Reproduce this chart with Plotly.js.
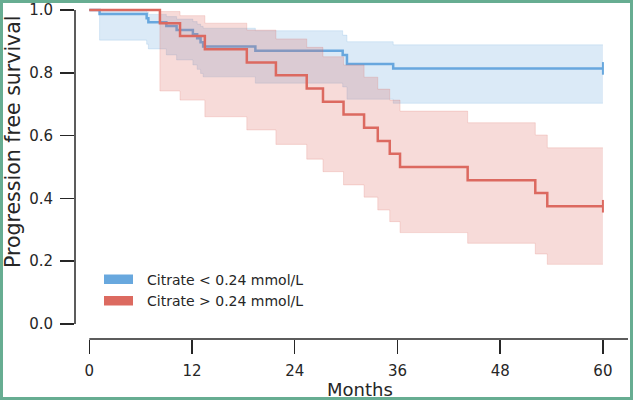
<!DOCTYPE html>
<html>
<head>
<meta charset="utf-8">
<script src="https://cdn.plot.ly/plotly-3.0.1.min.js"></script>
<style>
  html, body { margin: 0; padding: 0; background: #ffffff; }
  #wrap { position: relative; width: 633px; height: 400px; }
  #plot { position: absolute; left: 0; top: 0; width: 633px; height: 400px; }
  #frame { position: absolute; left: 0; top: 0; width: 633px; height: 400px; box-sizing: border-box;
           border: 3px solid #67ad92; pointer-events: none; }
</style>
</head>
<body>
<div id="wrap"><div id="plot"></div><div id="frame"></div></div>
<script>
// ---- data (Kaplan-Meier estimates with 95% CI) ----
const seriesNames = ["Citrate < 0.24 mmol/L", "Citrate > 0.24 mmol/L"];

const blueTimes = [0, 1.2, 6.7, 6.9, 9.0, 10.2, 12.1, 12.6, 13.0, 13.3, 19.4, 29.6, 30.1, 35.5, 60];
const blueSurv  = [1.0, 0.987, 0.974, 0.961, 0.949, 0.936, 0.923, 0.910, 0.897, 0.884, 0.870, 0.857, 0.828, 0.814, 0.814];
const blueUpper = [1.0, 0.998, 0.993, 0.986, 0.979, 0.971, 0.963, 0.955, 0.948, 0.942, 0.934, 0.920, 0.899, 0.889, 0.889];
const blueLower = [1.0, 0.904, 0.891, 0.876, 0.857, 0.841, 0.825, 0.811, 0.798, 0.787, 0.767, 0.755, 0.716, 0.703, 0.703];

const redTimes = [0, 8.25, 10.6, 13.5, 18.4, 21.8, 25.4, 27.3, 29.7, 32.1, 33.7, 35.1, 36.3, 44.2, 52.1, 53.5, 60];
const redSurv  = [1.0, 0.958, 0.917, 0.875, 0.833, 0.792, 0.750, 0.708, 0.667, 0.625, 0.583, 0.542, 0.500, 0.458, 0.417, 0.375, 0.375];
const redUpper = [1.0, 0.995, 0.982, 0.958, 0.936, 0.908, 0.881, 0.851, 0.825, 0.786, 0.748, 0.713, 0.678, 0.641, 0.602, 0.561, 0.561];
const redLower = [1.0, 0.742, 0.713, 0.660, 0.618, 0.572, 0.525, 0.485, 0.443, 0.404, 0.363, 0.326, 0.291, 0.257, 0.223, 0.190, 0.190];

const xTickVals = [0, 12, 24, 36, 48, 60];
const yTickVals = [0, 0.2, 0.4, 0.6, 0.8, 1.0];
const yTickText = ["0.0", "0.2", "0.4", "0.6", "0.8", "1.0"];

// ---- styles ----
const blueRGB = "104,168,222";
const redRGB  = "220,106,96";
const ink = "#262626";
const FONT = "DejaVu Sans, sans-serif";

function lineTrace(t, s, rgb, name) {
  return { x: t, y: s, type: "scatter", mode: "lines", name: name, showlegend: false,
           line: { shape: "hv", color: "rgb(" + rgb + ")", width: 2.5 }, hoverinfo: "skip" };
}
function bandTraces(t, lo, hi, rgb) {
  return [
    { x: t, y: lo, type: "scatter", mode: "lines", showlegend: false, hoverinfo: "skip",
      line: { shape: "hv", color: "rgba(" + rgb + ",0.2)", width: 1 } },
    { x: t, y: hi, type: "scatter", mode: "lines", showlegend: false, hoverinfo: "skip",
      fill: "tonexty", fillcolor: "rgba(" + rgb + ",0.24)",
      line: { shape: "hv", color: "rgba(" + rgb + ",0.2)", width: 1 } }
  ];
}
function censorTrace(t, s, rgb) {
  const n = t.length - 1;
  return { x: [t[n]], y: [s[n]], type: "scatter", mode: "markers", showlegend: false, hoverinfo: "skip",
           marker: { symbol: "line-ns", size: 9, line: { width: 2, color: "rgb(" + rgb + ")" } } };
}

const data = [
  lineTrace(blueTimes, blueSurv, blueRGB, seriesNames[0]),
  censorTrace(blueTimes, blueSurv, blueRGB),
  ...bandTraces(blueTimes, blueLower, blueUpper, blueRGB),
  lineTrace(redTimes, redSurv, redRGB, seriesNames[1]),
  censorTrace(redTimes, redSurv, redRGB),
  ...bandTraces(redTimes, redLower, redUpper, redRGB)
];

// plot area: x 75..628 px, y 5..339 px
const L = 75, R = 5, T = 5, B = 61;
const W = 633, H = 400;
const pw = W - L - R, ph = H - T - B;
const xr = [-1.67, 62.93];
const yr = [-0.0478, 1.0159];
function px2paperX(px) { return (px - L) / pw; }
function px2paperY(py) { return (H - B - py) / ph; }

const layout = {
  width: W, height: H,
  margin: { l: L, r: R, t: T, b: B, pad: 0 },
  paper_bgcolor: "#ffffff", plot_bgcolor: "#ffffff",
  showlegend: false,
  font: { family: FONT, color: ink, size: 15 },
  xaxis: {
    range: xr, showgrid: false, zeroline: false, showline: false,
    tickmode: "array", tickvals: xTickVals, ticktext: xTickVals.map(String),
    ticks: "outside", ticklen: 14, tickwidth: 1.5, tickcolor: ink,
    ticklabelstandoff: 4,
    tickfont: { family: FONT, size: 15, color: ink }
  },
  yaxis: {
    range: yr, showgrid: false, zeroline: false, showline: false,
    tickmode: "array", tickvals: yTickVals, ticktext: yTickText,
    ticks: "outside", ticklen: 14, tickwidth: 1.5, tickcolor: ink,
    ticklabelstandoff: 4,
    tickfont: { family: FONT, size: 15, color: ink }
  },
  shapes: [
    // trimmed/offset spines
    { type: "line", xref: "paper", yref: "y", x0: 0, x1: 0, y0: 0, y1: 1, line: { color: ink, width: 1.5 } },
    { type: "line", xref: "x", yref: "paper", x0: 0, x1: xr[1], y0: 0, y1: 0, line: { color: ink, width: 1.5 } },
    // legend swatches
    { type: "rect", xref: "paper", yref: "paper",
      x0: px2paperX(104), x1: px2paperX(133), y0: px2paperY(284), y1: px2paperY(274.5),
      fillcolor: "rgb(" + blueRGB + ")", line: { width: 0 } },
    { type: "rect", xref: "paper", yref: "paper",
      x0: px2paperX(104), x1: px2paperX(133), y0: px2paperY(305.5), y1: px2paperY(296),
      fillcolor: "rgb(" + redRGB + ")", line: { width: 0 } }
  ],
  annotations: [
    { text: seriesNames[0], xref: "paper", yref: "paper", x: px2paperX(145), y: px2paperY(279.5),
      xanchor: "left", yanchor: "middle", showarrow: false, font: { family: FONT, size: 14, color: ink } },
    { text: seriesNames[1], xref: "paper", yref: "paper", x: px2paperX(145), y: px2paperY(301),
      xanchor: "left", yanchor: "middle", showarrow: false, font: { family: FONT, size: 14, color: ink } },
    { text: "Months", xref: "paper", yref: "paper", x: px2paperX(359.5), y: px2paperY(389),
      xanchor: "center", yanchor: "middle", showarrow: false, font: { family: FONT, size: 18, color: ink } },
    { text: "Progression free survival", xref: "paper", yref: "paper", x: px2paperX(13), y: px2paperY(142),
      xanchor: "center", yanchor: "middle", textangle: -90, showarrow: false,
      font: { family: FONT, size: 20.5, color: ink } }
  ]
};

Plotly.newPlot("plot", data, layout, { displayModeBar: false, staticPlot: true });
</script>
</body>
</html>
